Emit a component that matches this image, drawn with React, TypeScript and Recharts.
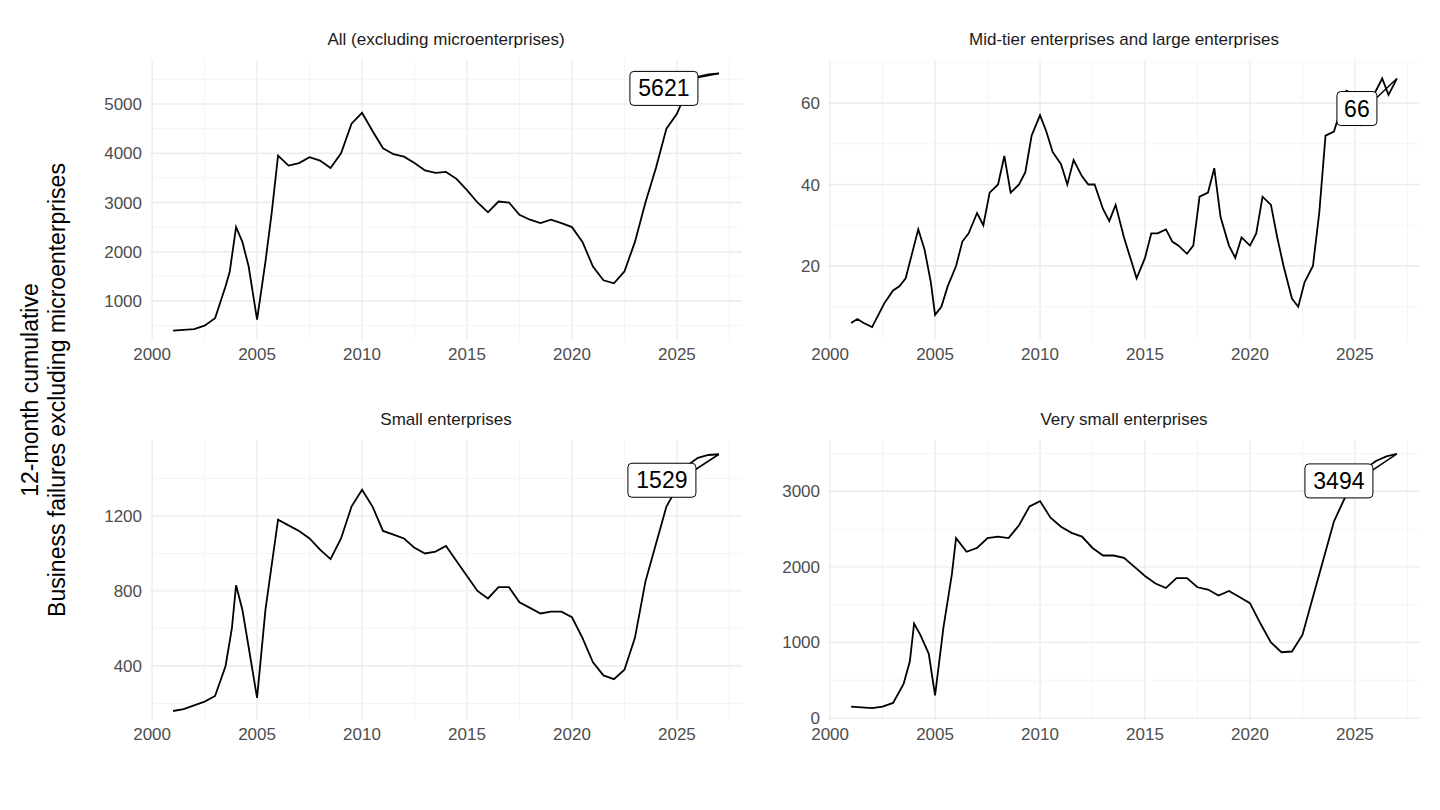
import { LineChart, Line, XAxis, YAxis, CartesianGrid, ReferenceLine } from "recharts";

const allYears = [2001, 2002, 2002.5, 2003, 2003.5, 2003.7, 2004, 2004.3, 2004.6, 2005, 2005.4, 2005.7, 2006, 2006.5, 2007, 2007.5, 2008, 2008.5, 2009, 2009.5, 2010, 2010.5, 2011, 2011.5, 2012, 2012.5, 2013, 2013.5, 2014, 2014.5, 2015, 2015.5, 2016, 2016.5, 2017, 2017.5, 2018, 2018.5, 2019, 2019.5, 2020, 2020.5, 2021, 2021.5, 2022, 2022.5, 2023, 2023.5, 2024, 2024.5, 2025, 2025.5, 2026, 2026.5, 2027];
const allValues = [400, 430, 500, 650, 1300, 1600, 2500, 2200, 1700, 620, 1800, 2800, 3950, 3750, 3800, 3920, 3850, 3700, 4000, 4600, 4820, 4450, 4100, 3980, 3930, 3800, 3650, 3600, 3620, 3480, 3250, 3000, 2800, 3020, 3000, 2750, 2650, 2580, 2650, 2580, 2500, 2200, 1700, 1420, 1360, 1600, 2200, 3000, 3700, 4500, 4800, 5300, 5550, 5600, 5621];

const midYears = [2001, 2001.3, 2001.6, 2002, 2002.3, 2002.6, 2003, 2003.3, 2003.6, 2004, 2004.2, 2004.5, 2004.8, 2005, 2005.3, 2005.6, 2006, 2006.3, 2006.6, 2007, 2007.3, 2007.6, 2008, 2008.3, 2008.6, 2009, 2009.3, 2009.6, 2010, 2010.3, 2010.6, 2011, 2011.3, 2011.6, 2012, 2012.3, 2012.6, 2013, 2013.3, 2013.6, 2014, 2014.3, 2014.6, 2015, 2015.3, 2015.6, 2016, 2016.3, 2016.6, 2017, 2017.3, 2017.6, 2018, 2018.3, 2018.6, 2019, 2019.3, 2019.6, 2020, 2020.3, 2020.6, 2021, 2021.3, 2021.6, 2022, 2022.3, 2022.6, 2023, 2023.3, 2023.6, 2024, 2024.3, 2024.6, 2025, 2025.3, 2025.6, 2026, 2026.3, 2026.6, 2027];
const midValues = [6, 7, 6, 5, 8, 11, 14, 15, 17, 25, 29, 24, 16, 8, 10, 15, 20, 26, 28, 33, 30, 38, 40, 47, 38, 40, 43, 52, 57, 53, 48, 45, 40, 46, 42, 40, 40, 34, 31, 35, 27, 22, 17, 22, 28, 28, 29, 26, 25, 23, 25, 37, 38, 44, 32, 25, 22, 27, 25, 28, 37, 35, 27, 20, 12, 10, 16, 20, 33, 52, 53, 58, 63, 62, 55, 60, 63, 66, 62, 66];

const smallYears = [2001, 2001.5, 2002, 2002.5, 2003, 2003.5, 2003.8, 2004, 2004.3, 2004.6, 2005, 2005.4, 2006, 2006.5, 2007, 2007.5, 2008, 2008.5, 2009, 2009.5, 2010, 2010.5, 2011, 2011.5, 2012, 2012.5, 2013, 2013.5, 2014, 2014.5, 2015, 2015.5, 2016, 2016.5, 2017, 2017.5, 2018, 2018.5, 2019, 2019.5, 2020, 2020.5, 2021, 2021.5, 2022, 2022.5, 2023, 2023.5, 2024, 2024.5, 2025, 2025.5, 2026, 2026.5, 2027];
const smallValues = [160, 170, 190, 210, 240, 400, 600, 830, 700, 500, 230, 700, 1180, 1150, 1120, 1080, 1020, 970, 1080, 1250, 1340, 1250, 1120, 1100, 1080, 1030, 1000, 1010, 1040, 960, 880, 800, 760, 820, 820, 740, 710, 680, 690, 690, 660, 550, 420, 350, 330, 380, 550, 850, 1050, 1250, 1350, 1470, 1510, 1525, 1529];

const verySmallYears = [2001, 2002, 2002.5, 2003, 2003.5, 2003.8, 2004, 2004.3, 2004.7, 2005, 2005.4, 2005.8, 2006, 2006.5, 2007, 2007.5, 2008, 2008.5, 2009, 2009.5, 2010, 2010.5, 2011, 2011.5, 2012, 2012.5, 2013, 2013.5, 2014, 2014.5, 2015, 2015.5, 2016, 2016.5, 2017, 2017.5, 2018, 2018.5, 2019, 2019.5, 2020, 2020.5, 2021, 2021.5, 2022, 2022.5, 2023, 2023.5, 2024, 2024.5, 2025, 2025.5, 2026, 2026.5, 2027];
const verySmallValues = [150, 130, 150, 200, 450, 750, 1250, 1100, 850, 300, 1200, 1900, 2380, 2200, 2250, 2380, 2400, 2380, 2550, 2800, 2870, 2650, 2530, 2450, 2400, 2250, 2150, 2150, 2120, 2000, 1880, 1780, 1720, 1850, 1850, 1730, 1700, 1620, 1680, 1600, 1520, 1250, 1000, 870, 880, 1100, 1600, 2100, 2600, 2900, 3100, 3300, 3400, 3460, 3494];

const xTicks = [2000, 2005, 2010, 2015, 2020, 2025];
const xMinor = [2002.5, 2007.5, 2012.5, 2017.5, 2022.5, 2027.5];

const FONT = "'Liberation Sans', Arial, sans-serif";

type Panel = {
  title: string; years: number[]; values: number[]; left: number; top: number;
  domain: [number, number]; ticks: number[]; minor: number[]; offset: [number, number];
};

const panels: Panel[] = [
  { title: "All (excluding microenterprises)", years: allYears, values: allValues, left: 80, top: 60, domain: [208, 5893], ticks: [1000, 2000, 3000, 4000, 5000], minor: [500, 1500, 2500, 3500, 4500, 5500], offset: [-55, 15] },
  { title: "Mid-tier enterprises and large enterprises", years: midYears, values: midValues, left: 758, top: 60, domain: [1.84, 70.55], ticks: [20, 40, 60], minor: [10, 30, 50, 70], offset: [-40, 30] },
  { title: "Small enterprises", years: smallYears, values: smallValues, left: 80, top: 440, domain: [112, 1605], ticks: [400, 800, 1200], minor: [200, 600, 1000, 1400], offset: [-57, 26] },
  { title: "Very small enterprises", years: verySmallYears, values: verySmallValues, left: 758, top: 440, domain: [-26, 3678], ticks: [0, 1000, 2000, 3000], minor: [500, 1500, 2500, 3500], offset: [-58, 27] },
];

function EndLabel(props: any, n: number, offset: [number, number]) {
  const { x, y, index, value } = props;
  if (index !== n - 1) return null;
  const cx = x + offset[0];
  const cy = y + offset[1];
  const w = 14 * String(value).length + 12;
  const h = 34;
  return (
    <g>
      <line x1={x} y1={y} x2={cx + w / 2} y2={cy - h / 2 + 6} stroke="#000" strokeWidth={1.5} />
      <rect x={cx - w / 2} y={cy - h / 2} width={w} height={h} rx={4} fill="#fff" stroke="#000" strokeWidth={1} />
      <text x={cx} y={cy + 8} textAnchor="middle" fontSize={23} fontFamily={FONT} fill="#000">{value}</text>
    </g>
  );
}

function Facet({ p }: { p: Panel }) {
  const data = p.years.map((year, i) => ({ year, value: p.values[i] }));
  return (
    <div style={{ position: "absolute", left: p.left, top: p.top }}>
      <LineChart width={662} height={310} data={data} margin={{ top: 0, right: 0, bottom: 0, left: 0 }}>
        <CartesianGrid stroke="#ebebeb" strokeWidth={1.3} verticalValues={xTicks} horizontalValues={p.ticks} />
        {xMinor.map((v) => <ReferenceLine key={"x" + v} x={v} stroke="#f2f2f2" strokeWidth={0.8} />)}
        {p.minor.map((v) => <ReferenceLine key={"y" + v} y={v} stroke="#f2f2f2" strokeWidth={0.8} />)}
        <XAxis dataKey="year" type="number" domain={[1999.9, 2028.1]} ticks={xTicks} allowDataOverflow axisLine={false} tickLine={false} height={30} tick={{ fontSize: 17, fill: "#4d4d4d", fontFamily: FONT }} />
        <YAxis type="number" domain={p.domain} ticks={p.ticks} allowDataOverflow axisLine={false} tickLine={false} width={70} tick={{ fontSize: 17, fill: "#4d4d4d", fontFamily: FONT }} />
        <Line dataKey="value" stroke="#000" strokeWidth={1.8} dot={false} isAnimationActive={false} label={(props: any) => EndLabel(props, data.length, p.offset)} />
      </LineChart>
      <div style={{ position: "absolute", left: 70, width: 592, top: -30, textAlign: "center", fontSize: 17, fontFamily: FONT, color: "#1a1a1a" }}>{p.title}</div>
    </div>
  );
}

export default function App() {
  return (
    <div style={{ position: "absolute", left: 0, top: 0, width: 1440, height: 810, background: "#fff" }}>
      {panels.map((p) => <Facet key={p.title} p={p} />)}
      <div style={{ position: "absolute", left: 44, top: 390, transform: "translate(-50%, -50%) rotate(-90deg)", whiteSpace: "nowrap", textAlign: "center", fontSize: 23, lineHeight: "27px", fontFamily: FONT, color: "#000" }}>
        12-month cumulative<br />Business failures excluding microenterprises
      </div>
    </div>
  );
}
